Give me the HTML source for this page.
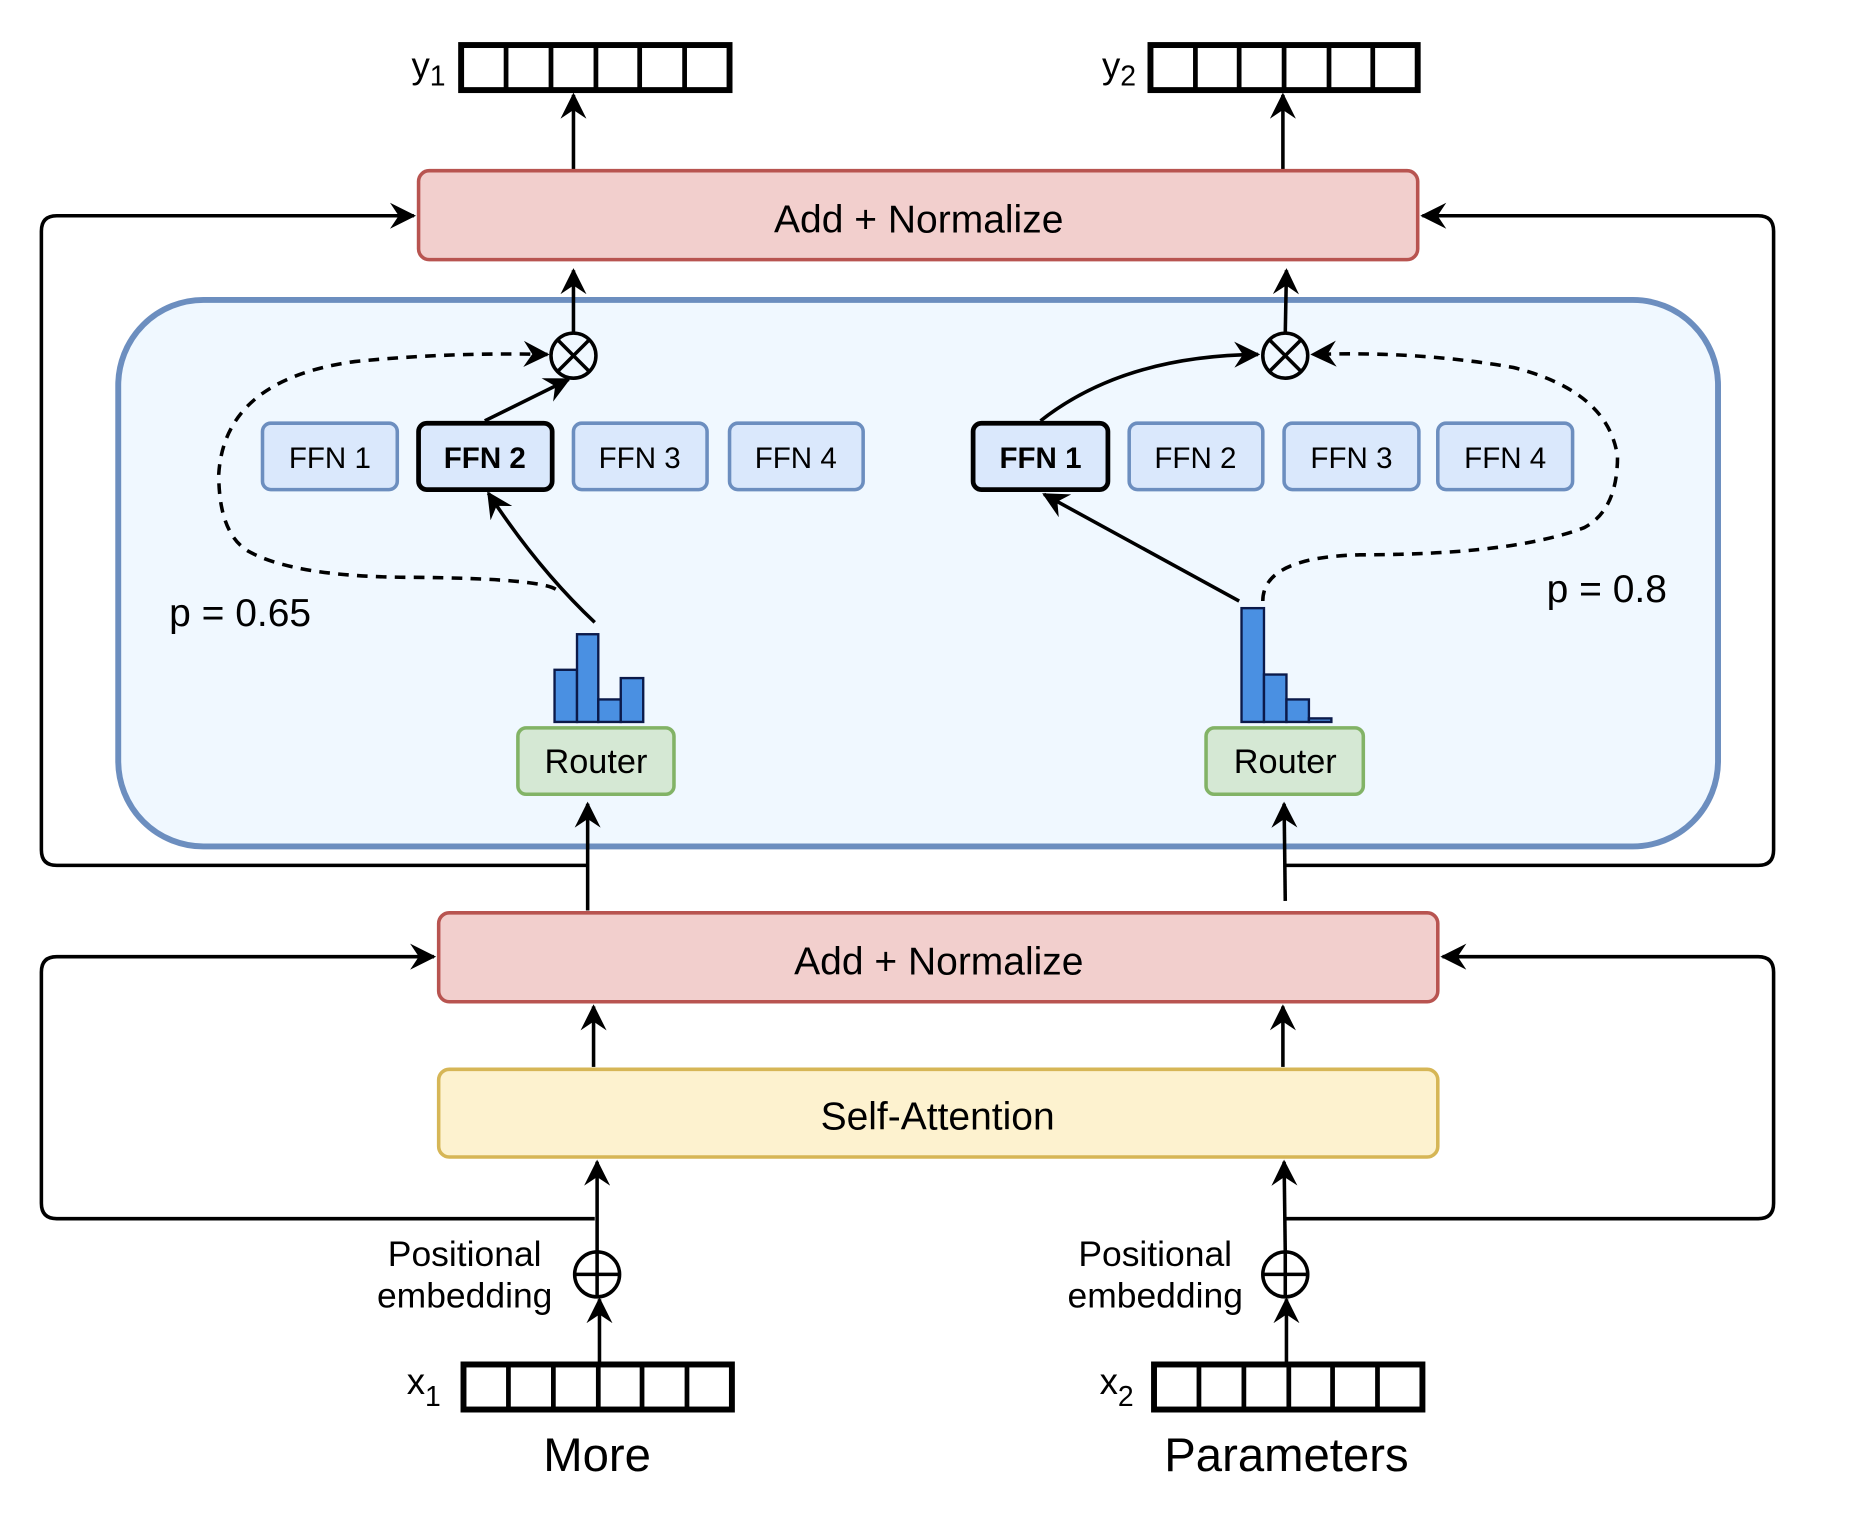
<!DOCTYPE html>
<html><head><meta charset="utf-8"><style>
html,body{margin:0;padding:0;background:#fff;}
svg{display:block;}
text{font-family:"Liberation Sans",sans-serif;fill:#000;}
</style></head><body>
<svg width="1854" height="1534" viewBox="0 0 1568 1294" preserveAspectRatio="none" xmlns="http://www.w3.org/2000/svg">
<defs>
<marker id="ar" viewBox="0 0 12 12" refX="11" refY="6" markerWidth="22" markerHeight="22" orient="auto" markerUnits="userSpaceOnUse">
<path d="M0,0 L12,6 L0,12 L4,6 z" fill="#000"/>
</marker>
</defs>
<g fill="none" stroke="#000" stroke-width="3">
<path d="M497,730 H48 Q35,730 35,717 V195 Q35,182 48,182 H350" marker-end="url(#ar)"/>
<path d="M1087,730 H1487 Q1500,730 1500,717 V195 Q1500,182 1487,182 H1203" marker-end="url(#ar)"/>
<path d="M503,1028 H48 Q35,1028 35,1015 V820 Q35,807 48,807 H367" marker-end="url(#ar)"/>
<path d="M1087,1028 H1487 Q1500,1028 1500,1015 V820 Q1500,807 1487,807 H1220" marker-end="url(#ar)"/>
</g>
<g fill="#fff" stroke="#000" stroke-width="5">
<rect x="390" y="38" width="227" height="38"/>
<rect x="973" y="38" width="226" height="38"/>
<rect x="392" y="1151" width="227" height="38"/>
<rect x="976" y="1151" width="227" height="38"/>
</g>
<g stroke="#000" stroke-width="4">
<path d="M428,38V76M466,38V76M504,38V76M541,38V76M579,38V76"/>
<path d="M1011,38V76M1048,38V76M1086,38V76M1124,38V76M1161,38V76"/>
<path d="M430,1151V1189M468,1151V1189M506,1151V1189M543,1151V1189M581,1151V1189"/>
<path d="M1014,1151V1189M1052,1151V1189M1090,1151V1189M1127,1151V1189M1165,1151V1189"/>
</g>
<text x="348" y="66" font-size="31">y<tspan font-size="24" dy="6">1</tspan></text>
<text x="932" y="66" font-size="31">y<tspan font-size="24" dy="6">2</tspan></text>
<text x="344" y="1176" font-size="31">x<tspan font-size="24" dy="10">1</tspan></text>
<text x="930" y="1176" font-size="31">x<tspan font-size="24" dy="10">2</tspan></text>
<g fill="none" stroke="#000" stroke-width="3">
<path d="M485,143V80" marker-end="url(#ar)"/>
<path d="M1085,143V80" marker-end="url(#ar)"/>
</g>
<rect x="354" y="144" width="845" height="75" rx="9" fill="#f2cfcd" stroke="#b85450" stroke-width="3"/>
<text x="777" y="196" font-size="33" text-anchor="middle">Add + Normalize</text>
<rect x="100" y="253" width="1353" height="461" rx="72" fill="#f0f8ff" stroke="#6c8ebf" stroke-width="5"/>
<g fill="none" stroke="#000" stroke-width="3">
<path d="M485,281V228" marker-end="url(#ar)"/>
<path d="M1087,281L1088,228" marker-end="url(#ar)"/>
<circle cx="485" cy="300" r="19"/><path d="M472,287L498,313M498,287L472,313"/>
<circle cx="1087" cy="300" r="19"/><path d="M1074,287L1100,313M1100,287L1074,313"/>
</g>
<g fill="#dae8fc" stroke="#6c8ebf" stroke-width="3">
<rect x="222" y="357" width="114" height="56" rx="7"/>
<rect x="485" y="357" width="113" height="56" rx="7"/>
<rect x="617" y="357" width="113" height="56" rx="7"/>
<rect x="955" y="357" width="113" height="56" rx="7"/>
<rect x="1086" y="357" width="114" height="56" rx="7"/>
<rect x="1216" y="357" width="114" height="56" rx="7"/>
</g>
<g fill="#dae8fc" stroke="#000" stroke-width="4">
<rect x="354" y="357" width="113" height="56" rx="7"/>
<rect x="823" y="357" width="114" height="56" rx="7"/>
</g>
<g font-size="25" text-anchor="middle">
<text x="279" y="395">FFN 1</text>
<text x="410" y="395" font-weight="bold">FFN 2</text>
<text x="541" y="395">FFN 3</text>
<text x="673" y="395">FFN 4</text>
<text x="880" y="395" font-weight="bold">FFN 1</text>
<text x="1011" y="395">FFN 2</text>
<text x="1143" y="395">FFN 3</text>
<text x="1273" y="395">FFN 4</text>
</g>
<g fill="none" stroke="#000" stroke-width="3">
<path d="M410,355L481,320" marker-end="url(#ar)"/>
<path d="M503,525Q455,480 413,416" marker-end="url(#ar)"/>
<path d="M1048,507L883,417" marker-end="url(#ar)"/>
<path d="M880,355Q950,300 1064,299" marker-end="url(#ar)"/>
<path d="M1087,760L1086,678" marker-end="url(#ar)"/>
<path d="M497,768V678" marker-end="url(#ar)"/>
</g>
<g fill="none" stroke="#000" stroke-width="3" stroke-dasharray="9,7">
<path d="M470,497Q455,488 350,487 Q250,487 210,465 Q185,450 185,400 Q190,320 300,305 Q380,297 463,299" marker-end="url(#ar)"/>
<path d="M1068,507Q1068,470 1150,468 Q1280,468 1340,445 Q1368,430 1368,385 Q1360,330 1280,310 Q1200,296 1110,299" marker-end="url(#ar)"/>
</g>
<text x="143" y="528" font-size="33">p = 0.65</text>
<text x="1308" y="508" font-size="33">p = 0.8</text>
<g fill="#4a90e2" stroke="#0b1a4a" stroke-width="2">
<rect x="469" y="565" width="19" height="44"/>
<rect x="488" y="535" width="18" height="74"/>
<rect x="506" y="590" width="19" height="19"/>
<rect x="525" y="572" width="19" height="37"/>
<rect x="1050" y="513" width="19" height="96"/>
<rect x="1069" y="569" width="19" height="40"/>
<rect x="1088" y="590" width="19" height="19"/>
<rect x="1107" y="606" width="19" height="3"/>
</g>
<g fill="#d5e8d4" stroke="#82b366" stroke-width="3">
<rect x="438" y="614" width="132" height="56" rx="7"/>
<rect x="1020" y="614" width="133" height="56" rx="7"/>
</g>
<text x="504" y="652" font-size="29" text-anchor="middle">Router</text>
<text x="1087" y="652" font-size="29" text-anchor="middle">Router</text>
<rect x="371" y="770" width="845" height="75" rx="9" fill="#f2cfcd" stroke="#b85450" stroke-width="3"/>
<text x="794" y="822" font-size="33" text-anchor="middle">Add + Normalize</text>
<rect x="371" y="902" width="845" height="74" rx="9" fill="#fdf2cf" stroke="#d6b656" stroke-width="3"/>
<text x="793" y="953" font-size="33" text-anchor="middle">Self-Attention</text>
<g fill="none" stroke="#000" stroke-width="3">
<path d="M502,900V849" marker-end="url(#ar)"/>
<path d="M1085,900V849" marker-end="url(#ar)"/>
<path d="M505,1056V980" marker-end="url(#ar)"/>
<path d="M1087,1056L1086,980" marker-end="url(#ar)"/>
<path d="M507,1150V1096" marker-end="url(#ar)"/>
<path d="M1088,1150V1096" marker-end="url(#ar)"/>
<circle cx="505" cy="1075" r="19"/><path d="M486,1075H524M505,1056V1094"/>
<circle cx="1087" cy="1075" r="19"/><path d="M1068,1075H1106M1087,1056V1094"/>
</g>
<g font-size="30" text-anchor="middle">
<text x="393" y="1068">Positional</text>
<text x="393" y="1103">embedding</text>
<text x="977" y="1068">Positional</text>
<text x="977" y="1103">embedding</text>
</g>
<text x="505" y="1241" font-size="40" text-anchor="middle">More</text>
<text x="1088" y="1241" font-size="40" text-anchor="middle">Parameters</text>
</svg>
</body></html>
